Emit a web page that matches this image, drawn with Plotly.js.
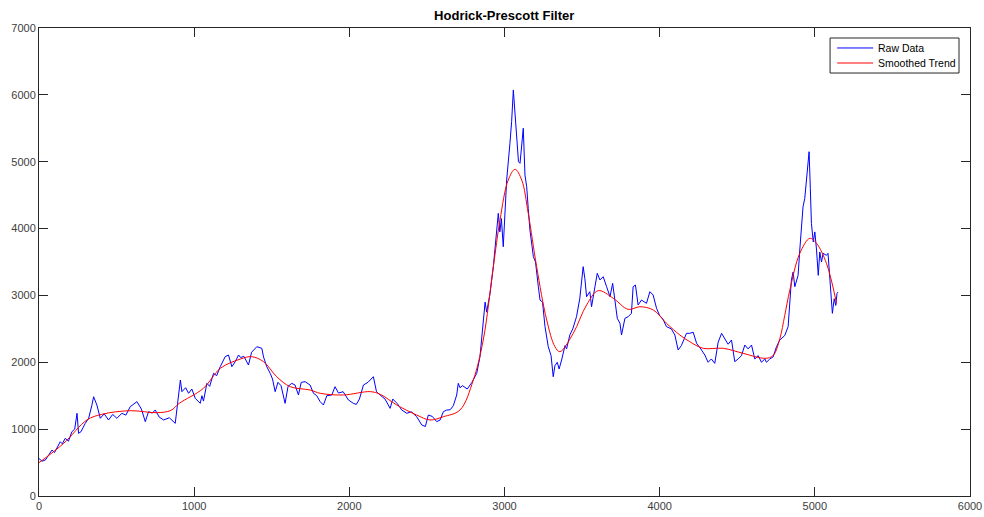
<!DOCTYPE html>
<html>
<head>
<meta charset="utf-8">
<script src="https://cdn.plot.ly/plotly-3.0.1.min.js"></script>
<style>html,body{margin:0;padding:0;background:#fff;}#chart{width:984px;height:517px;}</style>
</head>
<body>
<div id="chart"></div>
<script>
const rawX = [0,20,41,60,84,100,115,137,150,169,190,212,230,245,255,270,298,320,340,352,373,395,420,448,475,502,534,560,588,610,631,660,685,706,730,749,775,803,840,878,889,904,911,921,945,964,985,1007,1025,1039,1050,1060,1082,1100,1125,1145,1168,1200,1221,1243,1265,1286,1300,1320,1350,1370,1404,1436,1447,1468,1490,1505,1522,1540,1560,1586,1605,1629,1650,1672,1690,1715,1747,1769,1790,1812,1833,1855,1887,1908,1930,1960,1994,2026,2045,2065,2091,2120,2155,2175,2198,2230,2263,2280,2310,2338,2370,2400,2434,2467,2490,2509,2535,2563,2585,2606,2628,2650,2670,2692,2702,2713,2730,2760,2790,2821,2842,2863,2875,2885,2907,2928,2945,2960,2970,2980,2992,3003,3014,3035,3046,3057,3065,3078,3090,3100,3110,3121,3132,3143,3153,3164,3186,3200,3218,3229,3245,3261,3282,3300,3314,3325,3340,3352,3368,3390,3400,3421,3440,3464,3485,3507,3518,3529,3550,3561,3583,3598,3615,3636,3658,3680,3697,3712,3727,3744,3754,3776,3797,3818,3829,3844,3861,3883,3915,3937,3958,3980,4000,4020,4044,4075,4098,4119,4140,4173,4194,4216,4238,4265,4291,4312,4333,4355,4377,4399,4420,4441,4463,4484,4506,4527,4549,4570,4592,4613,4635,4656,4678,4688,4710,4731,4753,4774,4806,4828,4849,4860,4871,4892,4903,4924,4935,4950,4963,4971,4978,4990,5000,5011,5022,5032,5043,5053,5075,5085,5097,5113,5125,5135,5143,5150];
const rawY = [560,520,538,600,688,650,720,812,780,863,820,962,1000,1237,938,960,1087,1162,1350,1485,1361,1162,1230,1137,1220,1162,1237,1210,1336,1380,1411,1300,1112,1261,1240,1286,1180,1137,1170,1087,1300,1650,1735,1560,1620,1536,1600,1461,1420,1386,1500,1420,1685,1640,1835,1800,1934,2084,2109,1934,2010,2109,2070,2090,1959,2150,2233,2209,2080,1934,1835,1750,1560,1700,1650,1386,1640,1685,1660,1511,1700,1710,1660,1536,1500,1411,1361,1500,1511,1635,1540,1560,1436,1386,1370,1450,1660,1700,1784,1560,1511,1450,1311,1450,1380,1286,1237,1260,1186,1062,1040,1211,1190,1112,1137,1261,1286,1290,1350,1511,1685,1620,1650,1600,1700,1835,2084,2632,2900,2750,3032,3430,3900,4228,3950,4150,3729,4200,4726,5275,5600,6072,5800,5425,5000,4976,5200,5500,4800,4626,4300,3978,3579,3500,3131,2931,2900,2533,2233,2100,1784,1950,2000,1900,2034,2250,2200,2408,2500,2682,2950,3430,3250,2981,3056,2831,3131,3331,3231,3280,3131,2981,3181,2882,2657,2583,2408,2657,2682,2732,3131,3156,2857,2931,2882,3056,3006,2807,2700,2650,2533,2500,2408,2184,2250,2433,2433,2450,2284,2200,2109,2000,2050,1984,2300,2433,2350,2270,2333,2009,2050,2100,2258,2200,2258,2050,2100,2000,2050,2000,2050,2080,2233,2333,2400,2533,3231,3350,3131,3300,3679,4327,4450,4800,5150,4600,4078,3800,3950,3679,3300,3650,3500,3629,3600,3629,3200,2732,2950,2850,3032,3050];

const trendX = [0,159,309,405,588,760,850,904,1060,1168,1300,1371,1447,1532,1619,1748,1812,1962,2134,2200,2306,2434,2520,2606,2713,2799,2863,2928,2971,3024,3068,3111,3153,3207,3272,3325,3357,3443,3529,3604,3701,3797,3873,3959,4044,4130,4194,4280,4409,4538,4678,4731,4774,4806,4839,4903,4968,5011,5075,5140];
const trendY = [498,788,1137,1222,1276,1246,1280,1386,1611,1909,2050,2084,2009,1784,1635,1585,1536,1511,1561,1520,1361,1211,1137,1186,1286,1735,2333,3430,4128,4726,4886,4726,4228,3430,2632,2233,2159,2433,2857,3071,2957,2792,2831,2782,2583,2408,2308,2209,2209,2134,2059,2100,2350,2700,3081,3629,3854,3779,3480,2882];

const seriesNames = ['Raw Data', 'Smoothed Trend'];
const seriesColors = ['#0000ff', '#ff0000'];
const chartTitle = 'Hodrick-Prescott Filter';

const FONT = 'Liberation Sans, Arial, sans-serif';
const axisCommon = {
  showgrid: false, zeroline: false, showline: true, mirror: 'ticks',
  linecolor: '#262626', linewidth: 1, ticks: 'inside', ticklen: 9,
  tickcolor: '#262626', tickwidth: 1,
  tickfont: {family: FONT, size: 11, color: '#404040'},
  fixedrange: true
};

// Compact MATLAB-style legend (box, sample lines, labels) in plot-area fractions
const legBox = {x0: 0.8497, x1: 0.9882, y0: 0.9038, y1: 0.9786};
const legRowsY = [0.9573, 0.9252];
const shapes = [{type: 'rect', xref: 'paper', yref: 'paper', x0: legBox.x0, x1: legBox.x1, y0: legBox.y0, y1: legBox.y1,
                 line: {color: '#262626', width: 1}, fillcolor: '#ffffff', layer: 'above'}];
const annotations = [];
seriesNames.forEach((name, i) => {
  shapes.push({type: 'line', xref: 'paper', yref: 'paper', x0: 0.8573, x1: 0.8960, y0: legRowsY[i], y1: legRowsY[i],
               line: {color: seriesColors[i], width: 1}, layer: 'above'});
  annotations.push({xref: 'paper', yref: 'paper', x: 0.8985, y: legRowsY[i], xanchor: 'left', yanchor: 'middle',
                    text: name, showarrow: false, font: {family: FONT, size: 10.5, color: '#000'}});
});

Plotly.newPlot('chart', [
  {x: rawX, y: rawY, type: 'scatter', mode: 'lines', name: seriesNames[0],
   line: {color: seriesColors[0], width: 1}},
  {x: trendX, y: trendY, type: 'scatter', mode: 'lines', name: seriesNames[1],
   line: {color: seriesColors[1], width: 1, shape: 'spline', smoothing: 1}}
], {
  width: 984, height: 517,
  margin: {l: 39, r: 14, t: 28, b: 21, pad: 0},
  paper_bgcolor: '#ffffff', plot_bgcolor: '#ffffff',
  title: {text: '<b>' + chartTitle + '</b>', x: 0.5124, xanchor: 'center', y: 0.97, yanchor: 'middle',
          font: {family: FONT, size: 13, color: '#000'}},
  xaxis: Object.assign({}, axisCommon, {range: [0, 6000], dtick: 1000, tick0: 0}),
  yaxis: Object.assign({}, axisCommon, {range: [0, 7000], dtick: 1000, tick0: 0}),
  showlegend: false,
  shapes: shapes,
  annotations: annotations
}, {staticPlot: true});
</script>
</body>
</html>
